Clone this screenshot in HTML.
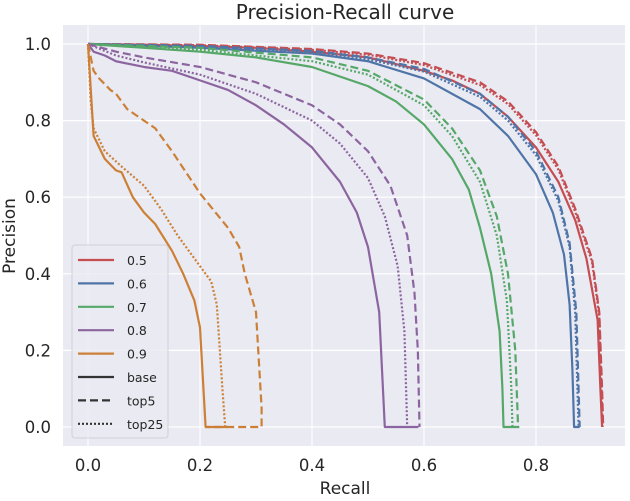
<!DOCTYPE html>
<html><head><meta charset="utf-8"><style>
body{margin:0;background:#fff;}
svg text{font-family:"DejaVu Sans","Liberation Sans",sans-serif;fill:#262626;}
</style></head><body>
<svg id="chart" width="630" height="496">
<text x="345" y="19" text-anchor="middle" font-size="20">Precision-Recall curve</text>
<rect x="63" y="25" width="562" height="421" fill="#eaeaf2"/>
<g id="grid"></g><g id="ticks"></g><g id="series"></g>
<text x="345" y="494" text-anchor="middle" font-size="17">Recall</text>
<text transform="translate(15,236) rotate(-90)" text-anchor="middle" font-size="17">Precision</text>
<g id="legend"></g>
</svg>
<script>
const xTicks=[0,0.2,0.4,0.6,0.8];
const yTicks=[0,0.2,0.4,0.6,0.8,1.0];
const thresholds=["0.5","0.6","0.7","0.8","0.9"];
const variants=["base","top5","top25"];
const red_base=[[0,1],[0.1,0.998],[0.2,0.995],[0.3,0.99],[0.4,0.98],[0.5,0.965],[0.6,0.93],[0.65,0.905],[0.7,0.87],[0.75,0.81],[0.8,0.73],[0.84,0.64],[0.87,0.54],[0.89,0.44],[0.91,0.28],[0.915,0.1],[0.918,0]];
const red_top5=[[0,1],[0.2,0.998],[0.4,0.987],[0.5,0.975],[0.6,0.95],[0.7,0.9],[0.75,0.85],[0.8,0.77],[0.84,0.68],[0.87,0.57],[0.9,0.44],[0.913,0.3],[0.918,0.1],[0.92,0]];
const red_top25=[[0,1],[0.2,0.997],[0.4,0.985],[0.5,0.972],[0.6,0.945],[0.7,0.893],[0.75,0.843],[0.8,0.762],[0.84,0.672],[0.87,0.562],[0.9,0.432],[0.913,0.29],[0.917,0.1],[0.919,0]];
const blue_base=[[0,1],[0.2,0.99],[0.4,0.975],[0.5,0.955],[0.6,0.91],[0.7,0.83],[0.75,0.76],[0.8,0.66],[0.83,0.56],[0.85,0.45],[0.86,0.32],[0.865,0.15],[0.868,0],[0.878,0]];
const blue_top5=[[0,1],[0.2,0.995],[0.4,0.982],[0.5,0.965],[0.6,0.935],[0.7,0.87],[0.75,0.81],[0.8,0.72],[0.84,0.6],[0.86,0.48],[0.872,0.3],[0.876,0.1],[0.878,0]];
const blue_top25=[[0,1],[0.2,0.993],[0.4,0.978],[0.5,0.96],[0.6,0.928],[0.7,0.862],[0.75,0.8],[0.8,0.71],[0.84,0.59],[0.86,0.47],[0.87,0.3],[0.874,0.1],[0.876,0]];
const green_base=[[0,1],[0.1,0.99],[0.2,0.98],[0.3,0.965],[0.4,0.94],[0.5,0.89],[0.55,0.85],[0.6,0.79],[0.65,0.7],[0.68,0.62],[0.7,0.52],[0.72,0.4],[0.735,0.25],[0.74,0.1],[0.742,0],[0.77,0]];
const green_top5=[[0,1],[0.2,0.99],[0.4,0.965],[0.5,0.93],[0.6,0.855],[0.65,0.78],[0.7,0.67],[0.73,0.55],[0.75,0.4],[0.763,0.2],[0.768,0],[0.77,0]];
const green_top25=[[0,1],[0.2,0.985],[0.4,0.955],[0.5,0.92],[0.6,0.84],[0.65,0.76],[0.7,0.64],[0.73,0.5],[0.748,0.33],[0.756,0.1],[0.758,0]];
const purple_base=[[0,1],[0.01,0.98],[0.03,0.97],[0.05,0.955],[0.1,0.94],[0.15,0.93],[0.2,0.905],[0.25,0.88],[0.3,0.84],[0.35,0.79],[0.4,0.73],[0.45,0.64],[0.48,0.56],[0.5,0.47],[0.52,0.3],[0.53,0],[0.59,0]];
const purple_top5=[[0,1],[0.05,0.98],[0.1,0.965],[0.2,0.94],[0.3,0.9],[0.4,0.84],[0.45,0.79],[0.5,0.72],[0.54,0.63],[0.57,0.5],[0.583,0.35],[0.589,0.2],[0.592,0]];
const purple_top25=[[0,1],[0.05,0.97],[0.1,0.952],[0.2,0.92],[0.3,0.87],[0.4,0.8],[0.45,0.74],[0.5,0.65],[0.53,0.55],[0.553,0.42],[0.565,0.25],[0.57,0]];
const orange_base=[[0,1],[0.01,0.76],[0.02,0.73],[0.03,0.7],[0.05,0.67],[0.06,0.665],[0.08,0.6],[0.1,0.56],[0.12,0.53],[0.15,0.46],[0.17,0.4],[0.19,0.33],[0.2,0.26],[0.21,0],[0.25,0]];
const orange_top5=[[0,1],[0.01,0.93],[0.02,0.91],[0.04,0.88],[0.05,0.87],[0.07,0.83],[0.1,0.8],[0.12,0.78],[0.15,0.72],[0.2,0.61],[0.25,0.52],[0.27,0.47],[0.28,0.4],[0.3,0.3],[0.31,0.05],[0.31,0],[0.21,0]];
const orange_top25=[[0,1],[0.005,0.85],[0.01,0.78],[0.03,0.72],[0.06,0.68],[0.1,0.63],[0.13,0.57],[0.16,0.5],[0.19,0.44],[0.22,0.38],[0.23,0.32],[0.24,0.1],[0.245,0]];

const colors=["#c44e52","#4f75a8","#55a868","#8c65a0","#cc8037"];
const dashes=["none","8,4","2,2"];
const allSeries=[[red_base,red_top5,red_top25],[blue_base,blue_top5,blue_top25],[green_base,green_top5,green_top25],[purple_base,purple_top5,purple_top25],[orange_base,orange_top5,orange_top25]];
const NS="http://www.w3.org/2000/svg";
const X=v=>88+v*560, Y=v=>427-v*383;
function mk(t,a,p){const e=document.createElementNS(NS,t);for(const k in a)e.setAttribute(k,a[k]);p.appendChild(e);return e;}
const grid=document.getElementById('grid'),ticks=document.getElementById('ticks');
xTicks.forEach(t=>{
 const l=mk('line',{x1:X(t),x2:X(t),y1:25,y2:446,stroke:'#fff','stroke-width':1.2},grid);
 
 
 const s=mk('text',{x:X(t),y:471,'text-anchor':'middle','font-size':16.5},ticks);s.textContent=t.toFixed(1);
 
 
});
yTicks.forEach(t=>{
 const l=mk('line',{x1:63,x2:625,y1:Y(t),y2:Y(t),stroke:'#fff','stroke-width':1.2},grid);
 
 
 const s=mk('text',{x:51,y:Y(t)+6,'text-anchor':'end','font-size':16.5},ticks);s.textContent=t.toFixed(1);
 
 
});
const sg=document.getElementById('series');
allSeries.forEach((grp,i)=>grp.forEach((pts,j)=>{
 const p=mk('polyline',{points:pts.map(q=>X(q[0])+','+Y(q[1])).join(' '),fill:'none',stroke:colors[i],'stroke-width':2.2,'stroke-dasharray':dashes[j],'stroke-linejoin':'round'},sg);
 
 
}));
const lg=document.getElementById('legend');
const box=mk('rect',{x:72,y:245,width:96,height:193,rx:3,fill:'#eaeaf2','fill-opacity':0.8,stroke:'#d0d0d8'},lg);


const labels=thresholds.concat(variants);
labels.forEach((lab,k)=>{
 const y=260+k*23.4;
 const col=k<5?colors[k]:'#333';
 const da=k<5?'none':dashes[k-5];
 const g=mk('g',{},lg);
 
 
 mk('line',{x1:78,x2:114,y1:y,y2:y,stroke:col,'stroke-width':2.2,'stroke-dasharray':da},g);
 const t=mk('text',{x:127,y:y+5,'font-size':12.5},g);t.textContent=lab;
});
</script>
</body></html>
